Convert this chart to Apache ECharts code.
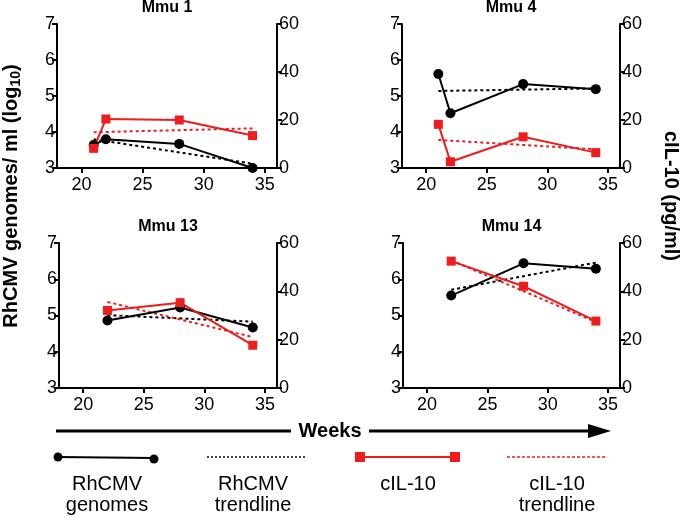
<!DOCTYPE html>
<html>
<head>
<meta charset="utf-8">
<script src="https://cdn.jsdelivr.net/npm/echarts@6/dist/echarts.min.js"></script>
<style>
html, body { margin: 0; padding: 0; background: #fff; }
#main { width: 680px; height: 520px; }
</style>
</head>
<body>
<div id="main"></div>
<script>
// one entry per animal
const panelNames = ['Mmu 1', 'Mmu 4', 'Mmu 13', 'Mmu 14'];
const weeks = [[21, 22, 28, 34], [21, 22, 28, 34], [22, 28, 34], [22, 28, 34]];
const genomes = [[3.64, 3.80, 3.67, 3.00], [5.61, 4.52, 5.33, 5.19], [4.86, 5.22, 4.67], [5.55, 6.44, 6.29]];
const cil10 = [[8.2, 20.4, 20.0, 13.5], [18.2, 2.6, 13.0, 6.4], [32.1, 35.3, 17.7], [52.5, 42.1, 27.7]];
// trendline end points
const trendWeeks = [[21, 34], [21, 34], [22, 34], [22, 34]];
const genomeTrend = [[3.80, 3.12], [5.14, 5.21], [5.01, 4.83], [5.71, 6.46]];
const cil10Trend = [[14.9, 16.5], [11.7, 7.8], [35.6, 21.1], [52.8, 27.3]];
// axis ticks
const weekTicks = [20, 25, 30, 35];
const leftTicks = [3, 4, 5, 6, 7];
const rightTicks = [0, 20, 40, 60];

const font = 'Liberation Sans, Arial, Helvetica, sans-serif';
const red = '#ee1c1c';
const grids = [
  { left: 57, top: 24, width: 220, height: 144 },
  { left: 402, top: 24, width: 218, height: 144 },
  { left: 59, top: 243, width: 218, height: 145 },
  { left: 403, top: 243, width: 217, height: 145 }
];

const pairs = (xs, ys) => xs.map((x, i) => [x, ys[i]]);
const axisLine = { show: true, onZero: false, lineStyle: { color: '#000', width: 2 } };
const tickStyle = { show: true, length: 5, lineStyle: { color: '#000', width: 2 } };
const labelStyle = { color: '#000', fontSize: 18, fontFamily: font };

let xAxes = [], yAxes = [], series = [], graphics = [];

grids.forEach((g, i) => {
  xAxes.push({
    type: 'value', gridIndex: i, min: 18, max: 36,
    axisLine: axisLine, splitLine: { show: false },
    axisTick: Object.assign({ customValues: weekTicks }, tickStyle),
    axisLabel: Object.assign({ customValues: weekTicks, margin: 8 }, labelStyle)
  });
  yAxes.push({
    type: 'value', gridIndex: i, min: leftTicks[0], max: leftTicks[leftTicks.length - 1], interval: 1, position: 'left',
    axisLine: axisLine, splitLine: { show: false }, axisTick: tickStyle,
    axisLabel: Object.assign({ margin: 2 }, labelStyle)
  });
  yAxes.push({
    type: 'value', gridIndex: i, min: rightTicks[0], max: rightTicks[rightTicks.length - 1], interval: 20, position: 'right',
    axisLine: axisLine, splitLine: { show: false }, axisTick: tickStyle,
    axisLabel: Object.assign({ margin: 2 }, labelStyle)
  });

  series.push({
    type: 'line', xAxisIndex: i, yAxisIndex: i * 2, clip: false, z: 5,
    data: pairs(weeks[i], genomes[i]),
    symbol: 'circle', symbolSize: 10,
    itemStyle: { color: '#000' }, lineStyle: { color: '#000', width: 2 }
  });
  series.push({
    type: 'line', xAxisIndex: i, yAxisIndex: i * 2, clip: false, z: 4,
    data: pairs(trendWeeks[i], genomeTrend[i]), symbol: 'none',
    lineStyle: { color: '#000', width: 2, type: [3, 3] }
  });
  series.push({
    type: 'line', xAxisIndex: i, yAxisIndex: i * 2 + 1, clip: false, z: 5,
    data: pairs(weeks[i], cil10[i]),
    symbol: 'rect', symbolSize: 9,
    itemStyle: { color: red }, lineStyle: { color: red, width: 2 }
  });
  series.push({
    type: 'line', xAxisIndex: i, yAxisIndex: i * 2 + 1, clip: false, z: 4,
    data: pairs(trendWeeks[i], cil10Trend[i]), symbol: 'none',
    lineStyle: { color: red, width: 2, type: [3, 3] }
  });

  graphics.push({
    type: 'text', x: g.left + g.width / 2, y: g.top - 16,
    style: { text: panelNames[i], font: 'bold 16px ' + font, fill: '#000', textAlign: 'center', textVerticalAlign: 'middle' }
  });
});

// axis titles
graphics.push({
  type: 'text', x: 11, y: 196, rotation: Math.PI / 2,
  style: {
    text: '{t|RhCMV genomes/ ml (log}{s|10}{t|)}', fill: '#000', align: 'center', verticalAlign: 'middle',
    rich: {
      t: { font: 'bold 20px ' + font, fill: '#000' },
      s: { font: 'bold 14px ' + font, fill: '#000', padding: [10, 0, 0, 0] }
    }
  }
});
graphics.push({
  type: 'text', x: 671, y: 196, rotation: -Math.PI / 2,
  style: { text: 'cIL-10 (pg/ml)', font: 'bold 20px ' + font, fill: '#000', textAlign: 'center', textVerticalAlign: 'middle' }
});

// weeks arrow
graphics.push({ type: 'line', shape: { x1: 56, y1: 431, x2: 291, y2: 431 }, style: { stroke: '#000', lineWidth: 3 } });
graphics.push({ type: 'line', shape: { x1: 369, y1: 431, x2: 592, y2: 431 }, style: { stroke: '#000', lineWidth: 3 } });
graphics.push({ type: 'polygon', shape: { points: [[588, 424], [611, 431], [588, 438]] }, style: { fill: '#000' } });
graphics.push({
  type: 'text', x: 330, y: 431,
  style: { text: 'Weeks', font: 'bold 20px ' + font, fill: '#000', textAlign: 'center', textVerticalAlign: 'middle' }
});

// legend
graphics.push({ type: 'line', shape: { x1: 58, y1: 457, x2: 154, y2: 458 }, style: { stroke: '#000', lineWidth: 2 } });
graphics.push({ type: 'circle', shape: { cx: 58, cy: 457, r: 4.5 }, style: { fill: '#000' } });
graphics.push({ type: 'circle', shape: { cx: 154, cy: 459, r: 4.5 }, style: { fill: '#000' } });
graphics.push({ type: 'line', shape: { x1: 207, y1: 457, x2: 305, y2: 457 }, style: { stroke: '#000', lineWidth: 1.5, lineDash: [2, 2] } });
graphics.push({ type: 'line', shape: { x1: 362, y1: 457, x2: 455, y2: 457 }, style: { stroke: red, lineWidth: 2 } });
graphics.push({ type: 'rect', shape: { x: 355, y: 452, width: 10, height: 10 }, style: { fill: red } });
graphics.push({ type: 'rect', shape: { x: 450, y: 452, width: 10, height: 10 }, style: { fill: red } });
graphics.push({ type: 'line', shape: { x1: 507, y1: 457, x2: 605, y2: 457 }, style: { stroke: red, lineWidth: 1.5, lineDash: [3, 2] } });

const legendLabels = [
  ['RhCMV\ngenomes', 107], ['RhCMV\ntrendline', 253], ['cIL-10', 408], ['cIL-10\ntrendline', 557]
];
legendLabels.forEach(([txt, cx]) => {
  graphics.push({
    type: 'text', x: cx, y: 474,
    style: { text: txt, font: '20px ' + font, fill: '#000', textAlign: 'center', textVerticalAlign: 'top', lineHeight: 21 }
  });
});

const chart = echarts.init(document.getElementById('main'));
chart.setOption({
  animation: false,
  grid: grids,
  xAxis: xAxes,
  yAxis: yAxes,
  series: series,
  graphic: graphics
});
</script>
</body>
</html>
